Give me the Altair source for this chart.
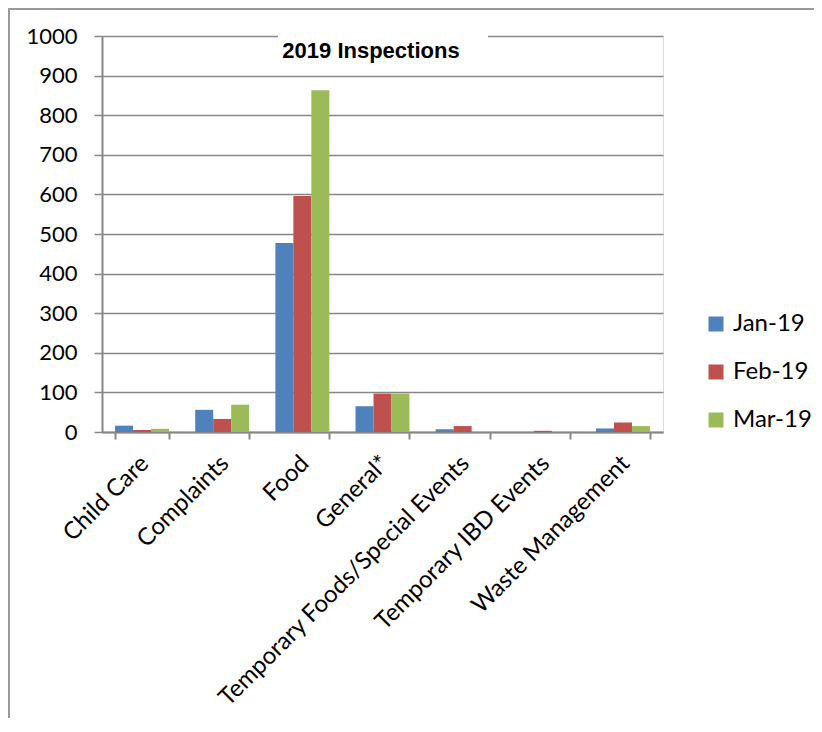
import altair as alt
import pandas as pd

categories = ["Child Care", "Complaints", "Food", "General*",
              "Temporary Foods/Special Events", "Temporary IBD Events",
              "Waste Management"]
months = ["Jan-19", "Feb-19", "Mar-19"]
jan = [16, 56, 477, 65, 7, 0, 9]
feb = [5, 33, 596, 97, 15, 3, 24]
mar = [8, 69, 863, 97, 0, 0, 15]
colors = ["#4F81BD", "#C0504D", "#9BBB59"]
y_ticks = list(range(0, 1001, 100))
title_text = "2019 Inspections"

rows = []
for m, vals in zip(months, [jan, feb, mar]):
    for c, v in zip(categories, vals):
        rows.append({"category": c, "month": m, "value": v})
df = pd.DataFrame(rows)

W, H = 561, 396
GRAY = "#878787"
FONT = "Lato"

bars = alt.Chart(df).mark_bar().encode(
    x=alt.X("category:N", sort=categories,
            scale=alt.Scale(paddingInner=0.327, paddingOuter=0.163),
            axis=alt.Axis(title=None, labelAngle=-45, labelAlign="right",
                          labelBaseline="top", tickBand="extent", tickSize=7,
                          labelPadding=12, labelOffset=-6, grid=False,
                          domainColor=GRAY, domainWidth=2, tickColor=GRAY,
                          tickWidth=2, labelFont=FONT, labelFontSize=24,
                          labelColor="black", labelLimit=0)),
    xOffset=alt.XOffset("month:N", sort=months,
                        scale=alt.Scale(paddingInner=0, paddingOuter=0)),
    y=alt.Y("value:Q", scale=alt.Scale(domain=[0, 1000], nice=False),
            axis=alt.Axis(title=None, values=y_ticks, grid=True, format="d",
                          gridColor=GRAY, gridWidth=1.5, domainColor=GRAY,
                          domainWidth=2, tickColor=GRAY, tickWidth=1.5,
                          tickSize=8, labelPadding=17, labelFont=FONT,
                          labelFontSize=22, labelColor="black")),
    color=alt.Color("month:N", sort=months,
                    scale=alt.Scale(domain=months, range=colors),
                    legend=alt.Legend(title=None, orient="none", legendX=602,
                                      legendY=276, symbolType="square",
                                      symbolSize=225, symbolStrokeWidth=0,
                                      labelFont=FONT, labelFontSize=24,
                                      labelColor="black", labelOffset=5,
                                      rowPadding=24, padding=0)),
)

tdf = pd.DataFrame({"t": [title_text]})

box = alt.Chart(tdf).mark_rect(fill="white").encode(
    x=alt.value(176), x2=alt.value(386), y=alt.value(-8), y2=alt.value(30)
)

title = alt.Chart(tdf).mark_text(
    font="Liberation Sans", fontWeight="bold", fontSize=22,
    align="center", baseline="alphabetic", color="black"
).encode(x=alt.value(269), y=alt.value(22), text="t:N")

border = alt.Chart(tdf).mark_rect(
    fillOpacity=0, stroke="#9a9a9a", strokeWidth=2
).encode(x=alt.value(-93), x2=alt.value(900), y=alt.value(-27), y2=alt.value(900))

chart = alt.layer(bars, box, title, border).properties(
    width=W, height=H,
    autosize=alt.AutoSizeParams(type="none"),
    padding={"left": 94, "top": 28, "right": 151, "bottom": 286},
).configure_view(stroke=None).configure(background="white")

chart.save("out.html", embed_options={"renderer": "svg", "actions": False})
